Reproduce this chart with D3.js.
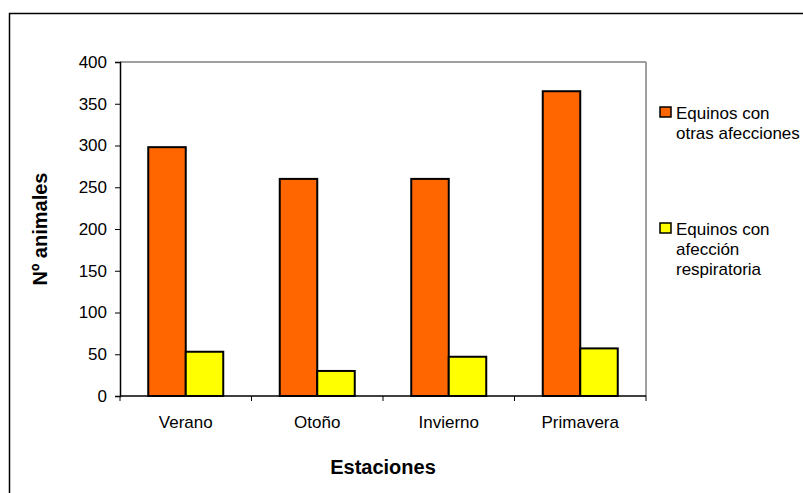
<!DOCTYPE html>
<html>
<head>
<meta charset="utf-8">
<script src="https://cdn.jsdelivr.net/npm/d3@7"></script>
<style>
  html, body { margin: 0; padding: 0; background: #fff; }
  svg { display: block; font-family: "Liberation Sans", Arial, sans-serif; }
</style>
</head>
<body>
<svg id="chart" width="803" height="493"></svg>
<script>
// Seasons and counts of horses per season
const categories = ["Verano", "Otoño", "Invierno", "Primavera"];
const seriesNames = ["Equinos con otras afecciones", "Equinos con afección respiratoria"];
const otrasAfecciones = [298, 260, 260, 365];
const afeccionRespiratoria = [53, 30, 47, 57];
const yTicks = [0, 50, 100, 150, 200, 250, 300, 350, 400];
const legendLines = [["Equinos con", "otras afecciones"], ["Equinos con", "afección", "respiratoria"]];
const colors = ["#FF6600", "#FFFF00"];

const svg = d3.select("#chart");
const plot = { left: 120, top: 62, right: 646, bottom: 396 };
const FONT = "Liberation Sans, Arial, sans-serif";

// Outer chart frame
svg.append("rect")
  .attr("x", 9.5).attr("y", 13.5)
  .attr("width", 900).attr("height", 600)
  .attr("fill", "none").attr("stroke", "#000").attr("stroke-width", 1.5);

const x0 = d3.scaleBand().domain(categories).range([plot.left, plot.right]).paddingInner(0).paddingOuter(0);
const groupWidth = 75;
const x1 = d3.scaleBand().domain([0, 1]).range([0, groupWidth]);
const y = d3.scaleLinear().domain([0, 400]).range([plot.bottom, plot.top]);

// Plot area borders (top and right in gray)
svg.append("line").attr("x1", plot.left).attr("x2", plot.right)
  .attr("y1", plot.top).attr("y2", plot.top).attr("stroke", "#808080").attr("stroke-width", 1.5);
svg.append("line").attr("x1", plot.right).attr("x2", plot.right)
  .attr("y1", plot.top).attr("y2", plot.bottom).attr("stroke", "#808080").attr("stroke-width", 1.5);

// Bars
const data = categories.map((c, i) => ({ cat: c, vals: [otrasAfecciones[i], afeccionRespiratoria[i]] }));
const groups = svg.append("g").selectAll("g").data(data).join("g")
  .attr("transform", d => `translate(${x0(d.cat) + (x0.bandwidth() - groupWidth) / 2},0)`);
groups.selectAll("rect").data(d => d.vals.map((v, k) => ({ v, k }))).join("rect")
  .attr("x", d => x1(d.k))
  .attr("y", d => y(d.v))
  .attr("width", x1.bandwidth())
  .attr("height", d => y(0) - y(d.v))
  .attr("fill", d => colors[d.k])
  .attr("stroke", "#000").attr("stroke-width", 2);

// Y axis
const yAxis = d3.axisLeft(y).tickValues(yTicks).tickSize(5).tickPadding(8);
const gy = svg.append("g").attr("transform", `translate(${plot.left},0)`).call(yAxis);
gy.select(".domain").attr("stroke", "#000").attr("stroke-width", 1.5);
gy.selectAll(".tick line").attr("stroke", "#000");
gy.selectAll("text").attr("font-size", 17).attr("fill", "#000").attr("font-family", FONT);

// X axis with ticks at category boundaries
const gx = svg.append("g").attr("transform", `translate(0,${plot.bottom})`);
gx.append("line").attr("x1", plot.left).attr("x2", plot.right)
  .attr("stroke", "#000").attr("stroke-width", 1.5);
const boundaries = categories.map(c => x0(c)).concat([plot.right]);
gx.selectAll(".bt").data(boundaries).join("line")
  .attr("x1", d => d).attr("x2", d => d).attr("y1", 0).attr("y2", 5)
  .attr("stroke", "#000");
gx.selectAll(".cl").data(categories).join("text")
  .attr("x", d => x0(d) + x0.bandwidth() / 2)
  .attr("y", 32)
  .attr("text-anchor", "middle")
  .attr("font-size", 17)
  .text(d => d);

// Axis titles
svg.append("text")
  .attr("x", (plot.left + plot.right) / 2).attr("y", 474)
  .attr("text-anchor", "middle").attr("font-size", 20).attr("font-weight", "bold")
  .text("Estaciones");
svg.append("text")
  .attr("transform", `translate(47,${(plot.top + plot.bottom) / 2}) rotate(-90)`)
  .attr("text-anchor", "middle").attr("font-size", 20).attr("font-weight", "bold")
  .text("Nº animales");

// Legend
const legendTops = [107, 223];
const lg = svg.append("g").selectAll("g").data(seriesNames).join("g");
lg.append("rect")
  .attr("x", 660).attr("y", (d, i) => legendTops[i])
  .attr("width", 11).attr("height", 10)
  .attr("fill", (d, i) => colors[i]).attr("stroke", "#000").attr("stroke-width", 1.5);
lg.append("text")
  .attr("x", 676).attr("y", (d, i) => legendTops[i] + 12)
  .attr("font-size", 17)
  .selectAll("tspan").data((d, i) => legendLines[i]).join("tspan")
  .attr("x", 676).attr("dy", (d, j) => j === 0 ? 0 : 20)
  .text(d => d);
</script>
</body>
</html>
